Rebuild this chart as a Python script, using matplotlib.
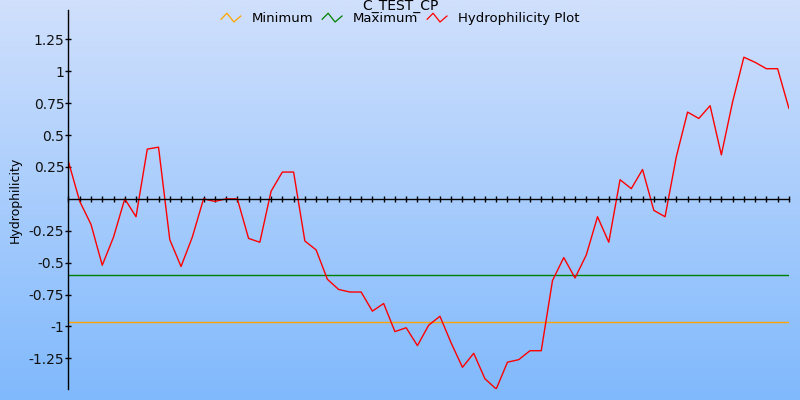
import numpy as np
import matplotlib
matplotlib.use('Agg')
import matplotlib.pyplot as plt
from matplotlib.lines import Line2D
from matplotlib.legend_handler import HandlerBase
from matplotlib.colors import LinearSegmentedColormap

# hydrophilicity values, one per window position
positions = list(range(1, 66))
hydro = [0.29, -0.02, -0.20, -0.52, -0.30, 0.00, -0.14, 0.39, 0.405, -0.32,
         -0.53, -0.30, 0.00, -0.02, 0.00, 0.00, -0.31, -0.34, 0.06, 0.21,
         0.21, -0.33, -0.40, -0.63, -0.71, -0.73, -0.73, -0.88, -0.82, -1.04,
         -1.01, -1.15, -0.99, -0.92, -1.13, -1.32, -1.21, -1.41, -1.49, -1.28,
         -1.26, -1.19, -1.19, -0.64, -0.46, -0.62, -0.44, -0.14, -0.34, 0.15,
         0.08, 0.23, -0.09, -0.14, 0.33, 0.68, 0.63, 0.73, 0.345, 0.76,
         1.11, 1.07, 1.02, 1.02, 0.71]
minimum = -0.963
maximum = -0.60
y_ticks = [-1.25, -1, -0.75, -0.5, -0.25, 0.25, 0.5, 0.75, 1, 1.25]
series_names = ['Minimum', 'Maximum', 'Hydrophilicity Plot']
series_colors = ['#ffa500', '#008000', '#ff0000']


class ZigzagHandler(HandlerBase):
    def create_artists(self, legend, orig_handle, xdescent, ydescent,
                       width, height, fontsize, trans):
        xs = np.array([0.0, 0.3, 0.65, 1.0]) * width - xdescent
        ys = np.array([0.35, 1.0, 0.05, 0.7]) * height - ydescent
        line = Line2D(xs, ys, color=orig_handle.get_color(), lw=0.9)
        line.set_transform(trans)
        return [line]


fig = plt.figure(figsize=(8, 4), dpi=100)

# background gradient
bg = fig.add_axes([0, 0, 1, 1], zorder=-1)
cmap = LinearSegmentedColormap.from_list('bg', ['#80b9fc', '#d0e0fd'])
bg.imshow(np.linspace(0, 1, 256).reshape(-1, 1), aspect='auto', cmap=cmap,
          origin='lower', extent=[0, 1, 0, 1])
bg.axis('off')

ax = fig.add_axes([0.0856, 0.0275, 0.9005, 0.9475])
ax.patch.set_alpha(0)

ax.axhline(minimum, color=series_colors[0], lw=1)
ax.axhline(maximum, color=series_colors[1], lw=1)
ax.plot(positions, hydro, color=series_colors[2], lw=1)

ax.set_xlim(positions[0], positions[-1])
ax.set_ylim(-1.49, 1.48)

ax.spines['top'].set_visible(False)
ax.spines['right'].set_visible(False)
ax.spines['bottom'].set_position(('data', 0))
ax.spines['bottom'].set_linewidth(1.0)
ax.spines['left'].set_linewidth(1.0)

ax.set_xticks(positions)
ax.tick_params(axis='x', direction='inout', length=5, width=1, labelbottom=False)
ax.set_yticks(y_ticks)
ax.set_yticklabels(['%g' % v for v in y_ticks])
ax.tick_params(axis='y', direction='inout', length=5, width=1, labelsize=10,
               pad=0.5, labelcolor='#111111')

ax.set_ylabel('Hydrophilicity', fontsize=9, labelpad=5)

fig.text(0.5, 1.003, 'C_TEST_CP', ha='center', va='top', fontsize=10)

handles = [Line2D([], [], color=c) for c in series_colors]
fig.legend(handles, series_names, loc='upper center', bbox_to_anchor=(0.5, 0.982),
           ncol=3, frameon=False, fontsize=9.5, handlelength=1.5,
           handletextpad=0.8, columnspacing=0.7, borderaxespad=0,
           handler_map={Line2D: ZigzagHandler()})

fig.savefig('out.png', dpi=100)
